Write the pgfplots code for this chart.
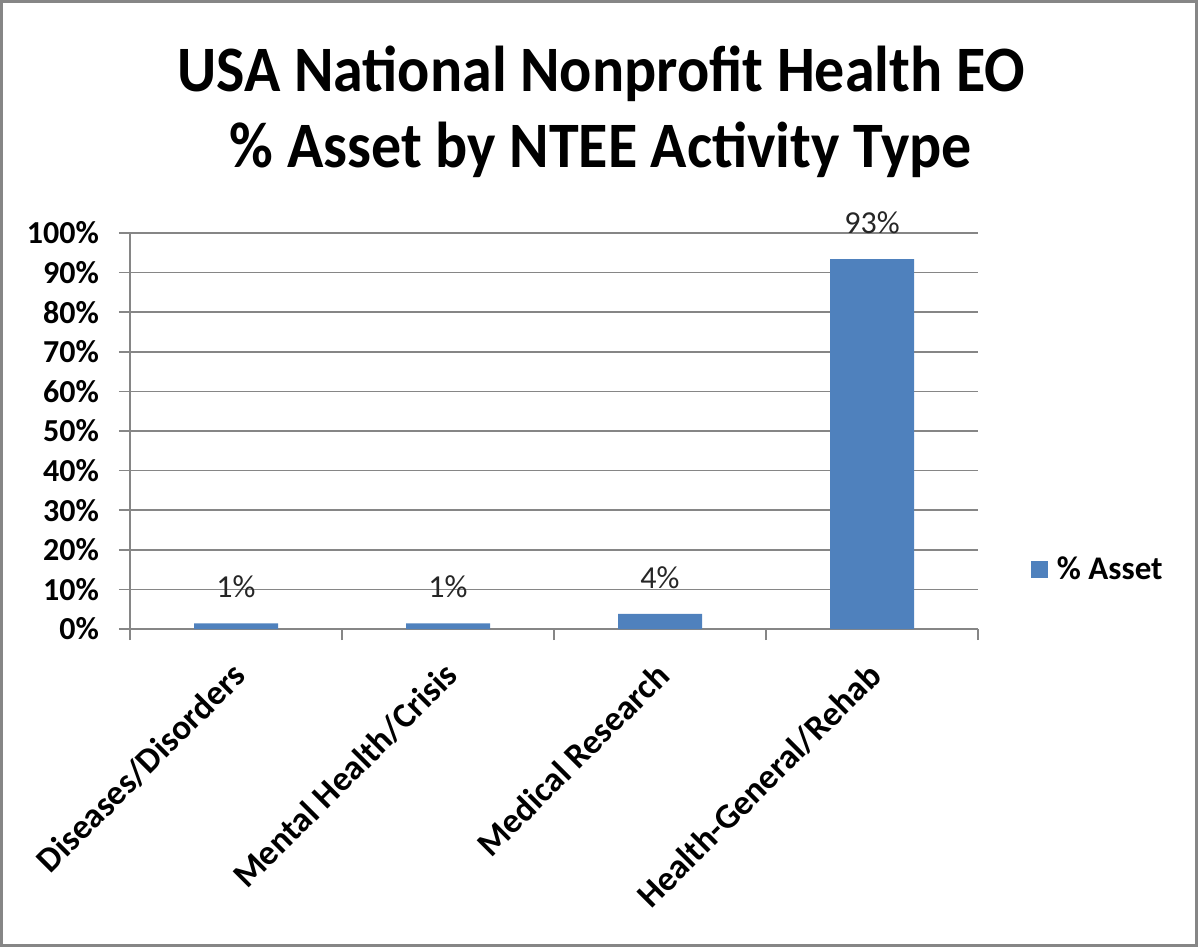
\documentclass[border=0pt]{standalone}
\usepackage{fontspec}
\setmainfont{Carlito}
\usepackage{pgfplots}
\pgfplotsset{compat=1.18}
\definecolor{barblue}{HTML}{4F81BD}
\definecolor{gridgray}{HTML}{868686}
\begin{document}
\begin{tikzpicture}
\path[use as bounding box] (0,0) rectangle (599pt,473.5pt);
\draw[gridgray, line width=1.5pt] (0.75pt,0.75pt) rectangle (598.25pt,472.75pt);
\node[font=\bfseries\fontsize{30}{36}\selectfont, anchor=base, inner sep=0pt, yscale=1.08]
  at (300.5pt,427.5pt) {USA National Nonprofit Health EO};
\node[font=\bfseries\fontsize{30}{36}\selectfont, anchor=base, inner sep=0pt, yscale=1.08]
  at (300.5pt,389.5pt) {\% Asset by NTEE Activity Type};
\begin{axis}[
  at={(65pt,159pt)}, anchor=south west,
  scale only axis, width=424pt, height=198pt,
  ybar, bar width=42pt,
  xmin=-0.5, xmax=3.5, ymin=0, ymax=100,
  xtick={0,1,2,3},
  xticklabels={Diseases/Disorders, Mental Health/Crisis, Medical Research, Health-General/Rehab},
  minor xtick={-0.5,0.5,1.5,2.5,3.5},
  ytick={0,10,20,30,40,50,60,70,80,90,100},
  yticklabel={\pgfmathprintnumber{\tick}\%},
  /pgf/number format/assume math mode=true,
  ymajorgrids,
  grid style={gridgray, line width=0.8pt},
  axis x line*=bottom, axis y line*=left,
  axis line style={gridgray, line width=0.8pt, -},
  tick align=outside,
  major tick length=5.5pt, minor tick length=5.5pt,
  tick style={gridgray, line width=0.8pt},
  major x tick style={draw=none},
  ticklabel style={font=\bfseries\fontsize{16}{19}\selectfont, text=black},
  yticklabel style={xshift=-6.5pt},
  xticklabel style={xshift=-3pt, yshift=-10pt, rotate=45, anchor=north east, inner sep=0pt,
    font=\bfseries\fontsize{17.5}{21}\selectfont},
  nodes near coords={\pgfmathprintnumber[fixed, precision=0]{\pgfplotspointmeta}\%},
  every node near coord/.append style={font=\fontsize{16}{19}\selectfont, text=black!85, inner sep=0pt, yshift=12.5pt},
  legend style={at={(1.062,0.149)}, anchor=west, draw=none, fill=none,
    font=\bfseries\fontsize{16.5}{19}\selectfont, inner sep=0pt},
]
\addplot[fill=barblue, draw=none,
  legend image code/.code={\fill[barblue] (0pt,-4.25pt) rectangle (8.5pt,4.25pt); \path (11pt,0pt);}]
  coordinates {(0,1.4) (1,1.4) (2,3.8) (3,93.4)};
\addlegendentry{\% Asset}
\end{axis}
\end{tikzpicture}
\end{document}
